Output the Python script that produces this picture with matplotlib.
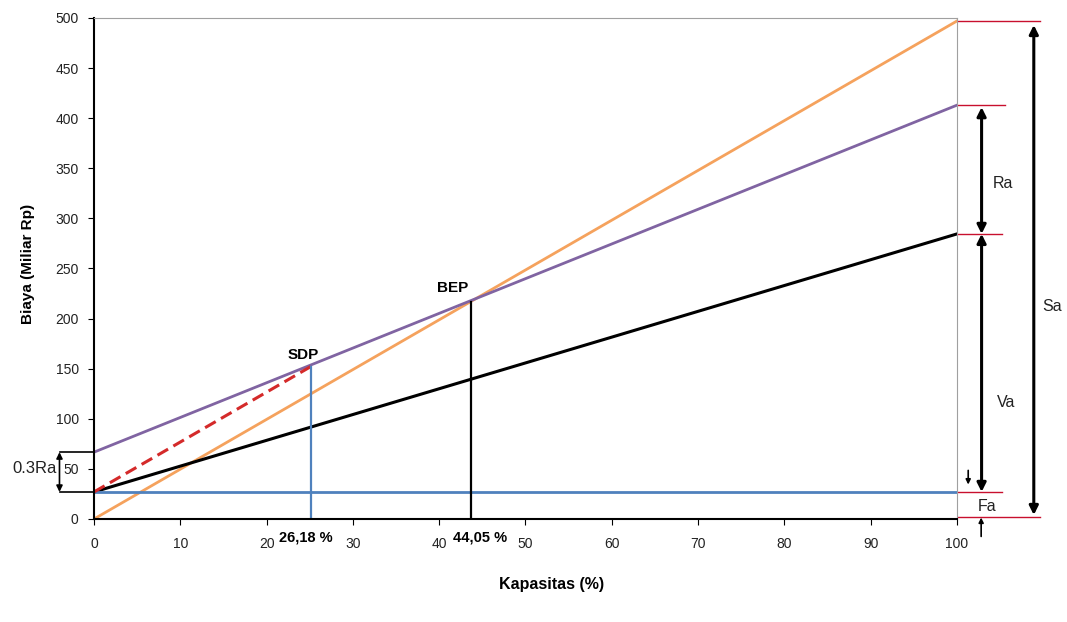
import matplotlib.pyplot as plt

# data
kapasitas = [0, 100]
penjualan = [0, 497]          # Sa (oranye)
biaya_semi = [66.7, 413]      # Fa + 0.3Ra .. Fa+Va+Ra (ungu)
biaya_variabel = [27, 284.5]  # Fa .. Fa+Va (hitam)
biaya_tetap = [27, 27]        # Fa (biru)
sdp_x, sdp_y = 25.1, 152
bep_x, bep_y = 43.7, 217
label_sdp = '26,18 %'
label_bep = '44,05 %'
x_ticks = [0, 10, 20, 30, 40, 50, 60, 70, 80, 90, 100]
y_ticks = [0, 50, 100, 150, 200, 250, 300, 350, 400, 450, 500]

plt.rcParams['font.family'] = ['Liberation Sans', 'DejaVu Sans']
fig = plt.figure(figsize=(10.67, 6.22), dpi=100)
ax = fig.add_axes([0.0881, 0.1656, 0.8088, 0.8055])

ax.plot(kapasitas, penjualan, color='#F5A25D', lw=2)
ax.plot(kapasitas, biaya_semi, color='#8064A2', lw=2)
ax.plot(kapasitas, biaya_variabel, color='black', lw=2.2)
ax.plot(kapasitas, biaya_tetap, color='#4F81BD', lw=2)
ax.plot([0, sdp_x], [biaya_tetap[0], sdp_y], color='#D42A2A', lw=2.2, ls=(0, (4, 2)))
ax.plot([sdp_x, sdp_x], [0, sdp_y], color='#4F81BD', lw=1.6)
ax.plot([bep_x, bep_x], [0, bep_y], color='black', lw=1.6)

ax.text(24.2, 163.5, 'SDP', fontsize=11, fontweight='bold', ha='center', va='center')
ax.text(41.6, 231, 'BEP', fontsize=11, fontweight='bold', ha='center', va='center')
ax.text(sdp_x - 0.5, -18, label_sdp, fontsize=10.5, fontweight='bold', ha='center', va='center',
        clip_on=False)
ax.text(bep_x + 1.0, -18, label_bep, fontsize=10.5, fontweight='bold', ha='center', va='center',
        clip_on=False)

ax.set_xlim(0, 100)
ax.set_ylim(0, 500)
ax.set_xticks(x_ticks)
ax.set_yticks(y_ticks)
ax.tick_params(labelsize=10, direction='out', length=4, colors='black', labelcolor='#222222')
ax.tick_params(axis='x', pad=9)
ax.tick_params(axis='y', pad=7)
for s in ['top', 'right']:
    ax.spines[s].set_color('#A0A0A0')
    ax.spines[s].set_linewidth(0.8)
for s in ['left', 'bottom']:
    ax.spines[s].set_linewidth(1.5)
ax.set_xlabel('Kapasitas (%)', fontsize=11.5, fontweight='bold')
ax.xaxis.set_label_coords(0.53, -0.116)
ax.set_ylabel('Biaya (Miliar Rp)', fontsize=11, fontweight='bold')
ax.yaxis.set_label_coords(-0.068, 0.51)

# anotasi kanan
merah = '#C8102E'
ax.plot([100.1, 109.6], [penjualan[1]] * 2, color=merah, lw=1, clip_on=False)
ax.plot([100.1, 105.6], [biaya_semi[1]] * 2, color=merah, lw=1, clip_on=False)
ax.plot([100.1, 105.2], [biaya_variabel[1]] * 2, color=merah, lw=1, clip_on=False)
ax.plot([100.1, 105.2], [biaya_tetap[1]] * 2, color=merah, lw=1, clip_on=False)
ax.plot([100.1, 109.6], [1.5, 1.5], color=merah, lw=1, clip_on=False)

arrow = dict(arrowstyle='<|-|>', color='black', lw=2.2, mutation_scale=13, shrinkA=0, shrinkB=0)
ax.annotate('', xy=(108.9, 4), xytext=(108.9, 493), arrowprops=arrow, annotation_clip=False)
ax.annotate('', xy=(102.85, biaya_variabel[1]), xytext=(102.85, biaya_semi[1] - 2),
            arrowprops=arrow, annotation_clip=False)
ax.annotate('', xy=(102.85, biaya_tetap[1]), xytext=(102.85, biaya_variabel[1]),
            arrowprops=arrow, annotation_clip=False)
kecil = dict(arrowstyle='-|>', color='black', lw=1.2, mutation_scale=7, shrinkA=0, shrinkB=0)
ax.annotate('', xy=(101.3, 34.4), xytext=(101.3, 48.5), arrowprops=kecil, annotation_clip=False)
ax.annotate('', xy=(102.8, 1.4), xytext=(102.8, -17.4), arrowprops=kecil, annotation_clip=False)

ax.text(104.2, 335, 'Ra', fontsize=11.5, va='center', color='#222222', clip_on=False)
ax.text(104.6, 116, 'Va', fontsize=11.5, va='center', color='#222222', clip_on=False)
ax.text(109.85, 212, 'Sa', fontsize=11.5, va='center', color='#222222', clip_on=False)
ax.text(102.4, 12.7, 'Fa', fontsize=11.5, va='center', color='#222222', clip_on=False)

# anotasi kiri 0.3Ra
ax.plot([-3.95, 0], [biaya_semi[0]] * 2, color='black', lw=1.2, clip_on=False)
ax.plot([-3.95, 0], [biaya_tetap[0]] * 2, color='black', lw=1.2, clip_on=False)
ax.annotate('', xy=(-4.0, biaya_tetap[0]), xytext=(-4.0, biaya_semi[0]),
            arrowprops=dict(arrowstyle='<|-|>', color='black', lw=1.2, mutation_scale=9,
                            shrinkA=0, shrinkB=0), annotation_clip=False)
ax.text(-4.3, 50, '0.3Ra', fontsize=12, ha='right', va='center', color='#222222', clip_on=False)

plt.savefig('out.png', dpi=100)
